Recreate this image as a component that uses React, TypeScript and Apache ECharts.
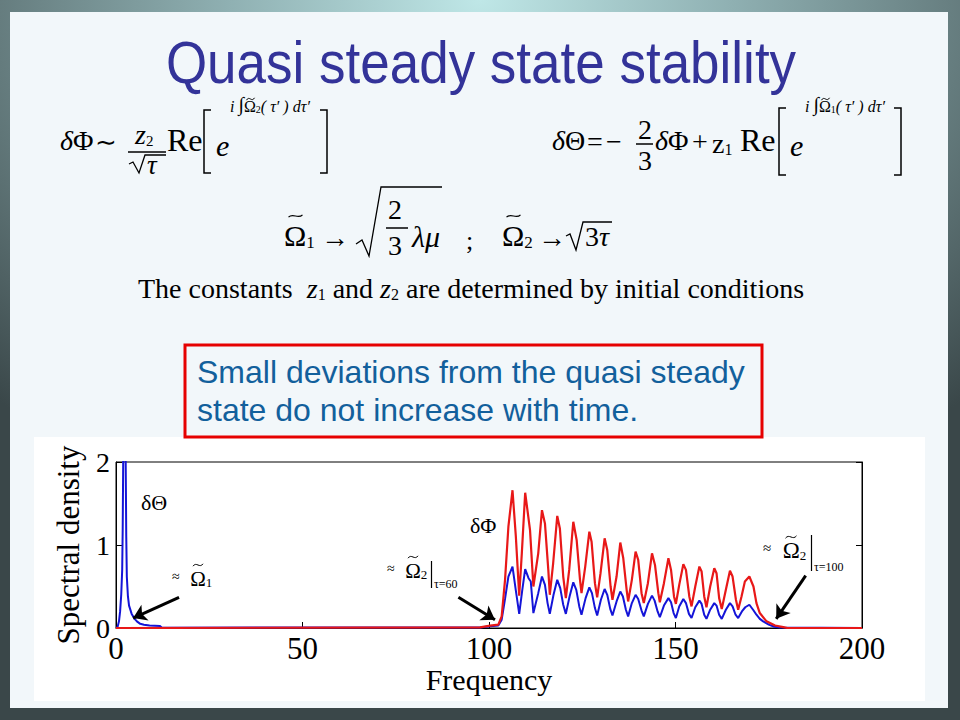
import React, { useEffect, useRef } from "react";
import * as echarts from "echarts";

// ---- data ----
const freqTicks = [0, 50, 100, 150, 200];
const densityTicks = [0, 1, 2];

// δΘ (blue) spectral density: [frequency, density]
const thetaSpectrum: [number, number][] = [
  [0, 0], [0.4, 0.01], [0.8, 0.08], [1.1, 0.2], [1.4, 0.4], [1.66, 0.7], [1.8, 1.2], [1.93, 2.0],
  [2.1, 3.2], [2.3, 3.4], [2.45, 3.0], [2.6, 2.0], [2.75, 1.1], [2.9, 0.62], [3.2, 0.38], [3.5, 0.27],
  [4.2, 0.17], [5.0, 0.11], [5.6, 0.08], [6.5, 0.05], [7.5, 0.04], [9.0, 0.03], [11.8, 0.025], [12.3, 0.004],
  [97.6, 0.006], [100.3, 0.02], [102.5, 0.03], [103.4, 0.1], [104.3, 0.35], [105.2, 0.62],
  [106.3, 0.74], [107.2, 0.45], [108.1, 0.17], [108.9, 0.45], [109.7, 0.71], [110.6, 0.6], [111.2, 0.56], [111.9, 0.18],
  [113.2, 0.42], [114.2, 0.62], [115.0, 0.52], [115.7, 0.3], [116.3, 0.17],
  [117.3, 0.4], [118.3, 0.58], [119.1, 0.48], [119.9, 0.28], [120.6, 0.17],
  [121.6, 0.38], [122.6, 0.55], [123.4, 0.46], [124.2, 0.26], [124.8, 0.16],
  [125.9, 0.36], [126.9, 0.49], [127.6, 0.42], [128.4, 0.24], [129.0, 0.15],
  [130.0, 0.34], [131.0, 0.47], [131.7, 0.4], [132.5, 0.23], [133.1, 0.15],
  [134.2, 0.32], [135.2, 0.44], [135.9, 0.38], [136.7, 0.22], [137.3, 0.14],
  [138.3, 0.3], [139.3, 0.4], [140.0, 0.35], [140.9, 0.21], [141.5, 0.14],
  [142.6, 0.29], [143.7, 0.39], [144.4, 0.33], [145.2, 0.2], [145.8, 0.13],
  [146.9, 0.27], [148.1, 0.36], [148.8, 0.31], [149.5, 0.18], [150.1, 0.12],
  [151.0, 0.26], [152.1, 0.35], [152.8, 0.3], [153.6, 0.17], [154.3, 0.12],
  [155.3, 0.25], [156.4, 0.33], [157.0, 0.29], [157.7, 0.16], [158.3, 0.11],
  [159.3, 0.22], [160.4, 0.3], [161.0, 0.27], [161.7, 0.16], [162.4, 0.11],
  [163.5, 0.22], [164.6, 0.3], [165.3, 0.26], [166.1, 0.16], [166.8, 0.12],
  [167.8, 0.2], [168.7, 0.25], [169.8, 0.28], [170.8, 0.22], [171.7, 0.16], [172.6, 0.11],
  [173.5, 0.08], [175.0, 0.04], [176.5, 0.015], [178.0, 0.005], [200, 0],
];

// δΦ (red) spectral density: [frequency, density]
const phiSpectrum: [number, number][] = [
  [0, 0], [97.6, 0.008], [100.3, 0.028], [102.5, 0.04], [103.4, 0.14], [104.3, 0.58], [105.2, 1.22],
  [106.3, 1.66], [107.2, 1.1], [108.1, 0.39], [108.8, 0.9], [109.7, 1.63], [111.0, 1.18], [111.9, 0.5],
  [113.2, 0.9], [114.2, 1.42], [115.0, 1.26], [115.9, 0.7], [116.3, 0.4],
  [117.2, 0.78], [118.3, 1.35], [119.0, 1.2], [119.9, 0.62], [120.6, 0.36],
  [121.5, 0.7], [122.6, 1.28], [123.5, 1.06], [124.4, 0.58], [124.8, 0.42],
  [125.8, 0.74], [126.9, 1.16], [127.5, 1.04], [128.4, 0.54], [129.0, 0.37],
  [129.9, 0.66], [131.0, 1.08], [131.7, 0.94], [132.6, 0.5], [133.1, 0.34],
  [134.2, 0.62], [135.2, 1.03], [136.0, 0.84], [136.9, 0.46], [137.3, 0.32],
  [138.3, 0.58], [139.3, 0.92], [140.0, 0.82], [140.9, 0.42], [141.5, 0.3],
  [142.6, 0.54], [143.7, 0.9], [144.5, 0.76], [145.4, 0.42], [145.8, 0.31],
  [146.9, 0.54], [148.1, 0.84], [148.8, 0.7], [149.6, 0.38], [150.1, 0.29],
  [151.0, 0.52], [152.1, 0.77], [152.8, 0.7], [153.7, 0.38], [154.3, 0.26],
  [155.3, 0.5], [156.4, 0.74], [157.0, 0.68], [157.7, 0.38], [158.3, 0.25],
  [159.3, 0.5], [160.4, 0.72], [161.0, 0.66], [161.7, 0.36], [162.4, 0.23],
  [163.5, 0.46], [164.6, 0.69], [165.3, 0.62], [166.2, 0.34], [166.8, 0.22],
  [167.7, 0.38], [168.6, 0.56], [169.8, 0.62], [170.9, 0.5], [171.7, 0.3], [172.6, 0.18],
  [174.4, 0.08], [176.7, 0.03], [178.9, 0.01], [180, 0], [200, 0],
];

// arrows: [tail, head] in data coordinates
const arrows: [[number, number], [number, number]][] = [
  [[16.9, 0.37], [4.6, 0.12]],
  [[91.8, 0.37], [101.6, 0.1]],
  [[184.9, 0.63], [177.0, 0.11]],
];

const SERIF = "'Liberation Serif', 'Times New Roman', serif";
const SANS = "'Liberation Sans', Arial, sans-serif";

function txt(x: number, y: number, text: string, size: number, extra: any = {}) {
  const { italic, color, font, align, ...rest } = extra;
  return {
    type: "text",
    x,
    y,
    z: 5,
    ...rest,
    style: {
      text,
      fontSize: size,
      fontFamily: font || SERIF,
      fontStyle: italic ? "italic" : "normal",
      fill: color || "#000",
      align: align || "left",
      textAlign: align || "left",
      verticalAlign: "middle",
      textVerticalAlign: "middle",
    },
  };
}

// rich text: tags m (main), i (italic main), s (subscript), a (small symbol), n (integral)
function rt(x: number, y: number, text: string, size: number, sub = Math.round(size * 0.58), small = Math.round(size * 0.65)) {
  const base = { fontFamily: SERIF, fill: "#000", color: "#000", verticalAlign: "bottom" };
  const lh = size + Math.round(size * 0.22);
  return {
    type: "text",
    x,
    y,
    z: 5,
    style: {
      text,
      fontSize: size,
      fontFamily: SERIF,
      fill: "#000",
      align: "left",
      textAlign: "left",
      verticalAlign: "middle",
      textVerticalAlign: "middle",
      rich: {
        m: { ...base, fontSize: size, lineHeight: lh },
        i: { ...base, fontSize: size, fontStyle: "italic", lineHeight: lh },
        s: { ...base, fontSize: sub, lineHeight: sub },
        a: { ...base, fontSize: small, verticalAlign: "middle" },
        n: { ...base, fontSize: Math.round(size * 1.25), verticalAlign: "middle" },
      },
    },
  };
}

function seg(x1: number, y1: number, x2: number, y2: number, w = 1.5) {
  return { type: "line", z: 5, shape: { x1, y1, x2, y2 }, style: { stroke: "#000", lineWidth: w } };
}

function poly(points: number[][], w = 1.5) {
  return { type: "polyline", z: 5, shape: { points }, style: { stroke: "#000", fill: null, lineWidth: w } };
}

function tilde(cx: number, cy: number, w: number, lw = 1) {
  return {
    type: "bezierCurve",
    z: 5,
    shape: {
      x1: cx - w / 2, y1: cy + 1.2, x2: cx + w / 2, y2: cy - 1.2,
      cpx1: cx - w / 6, cpy1: cy - 3.8, cpx2: cx + w / 6, cpy2: cy + 3.8,
    },
    style: { stroke: "#000", fill: null, lineWidth: lw },
  };
}

function bracket(xOuter: number, xInner: number, y1: number, y2: number) {
  return poly([[xInner, y1], [xOuter, y1], [xOuter, y2], [xInner, y2]], 1.5);
}

function buildGraphics() {
  const g: any[] = [];
  // slide frame
  g.push({
    type: "rect", z: -10, shape: { x: 0, y: 0, width: 960, height: 720 },
    style: {
      fill: {
        type: "radial", x: 0.5, y: 0, r: 0.75,
        colorStops: [
          { offset: 0, color: "#bfe7e7" },
          { offset: 0.35, color: "#8fb0b2" },
          { offset: 1, color: "#3a4749" },
        ],
      },
    },
  });
  g.push({ type: "rect", z: -9, shape: { x: 10, y: 12, width: 938, height: 696 }, style: { fill: "#f2f7fa" } });
  g.push({ type: "rect", z: -8, shape: { x: 34, y: 437, width: 891, height: 264 }, style: { fill: "#ffffff" } });

  // title
  g.push(txt(481, 62, "Quasi steady state stability", 53, { font: SANS, color: "#333399", align: "center", scaleY: 1.12 }));

  // equation 1: δΦ ~ z2/√τ Re[ e^{i∫Ω2(τ')dτ'} ]
  g.push(rt(60, 137, "{i|δ}{m|Φ}", 28));
  g.push(txt(95, 142, "∼", 26));
  g.push(rt(135, 131, "{i|z}{s|2}", 28, 15));
  g.push(seg(128, 152, 166, 152));
  g.push(poly([[129, 164], [133, 162], [139, 173], [145, 155], [166, 155]], 1.3));
  g.push(txt(147, 165, "τ", 27, { italic: true }));
  g.push(txt(167, 140, "Re", 32));
  g.push(bracket(204, 211, 110, 173));
  g.push(txt(216, 145, "e", 30, { italic: true }));
  g.push(rt(230, 104, "{i|i} {n|∫}{m|Ω}{s|2}{i|( τ′ ) dτ′}", 16, 10));
  g.push(tilde(250.5, 99, 8));
  g.push(bracket(327, 320, 110, 173));

  // equation 2: δΘ = -2/3 δΦ + z1 Re[ e^{i∫Ω1(τ')dτ'} ]
  g.push(rt(552, 137, "{i|δ}{m|Θ}", 28));
  g.push(txt(587, 141, "=", 28));
  g.push(txt(606, 141, "−", 28));
  g.push(txt(638, 129, "2", 28));
  g.push(seg(636, 144, 653, 144));
  g.push(txt(638, 160, "3", 28));
  g.push(rt(655, 137, "{i|δ}{m|Φ}", 28));
  g.push(txt(692, 141, "+", 28));
  g.push(rt(712, 140, "{m|z}{s|1}", 28, 16));
  g.push(txt(740, 140, "Re", 32));
  g.push(bracket(779, 786, 108, 175));
  g.push(txt(790, 145, "e", 30, { italic: true }));
  g.push(rt(805, 104, "{i|i} {n|∫}{m|Ω}{s|1}{i|( τ′ ) dτ′}", 16, 10));
  g.push(tilde(825.5, 99, 8));
  g.push(bracket(901, 894, 108, 175));

  // equation 3: Ω1 → √(2/3 λμ) ; Ω2 → √3τ
  g.push(rt(284, 232, "{m|Ω}{s|1}", 30, 17));
  g.push(tilde(295.5, 216, 14, 1.2));
  g.push(txt(321, 237, "→", 28));
  g.push(poly([[356, 244], [362, 240], [369, 256], [381, 187], [442, 187]], 1.3));
  g.push(txt(388, 209, "2", 28));
  g.push(seg(386, 228, 408, 228));
  g.push(txt(388, 245, "3", 28));
  g.push(txt(412, 236, "λμ", 30, { italic: true }));
  g.push(txt(466, 240, ";", 26));
  g.push(rt(502, 232, "{m|Ω}{s|2}", 30, 17));
  g.push(tilde(513.5, 216, 14, 1.2));
  g.push(txt(538, 237, "→", 28));
  g.push(poly([[566, 236], [570, 234], [576, 250], [583, 222], [612, 222]], 1.3));
  g.push(rt(585, 233, "{m|3}{i|τ}", 28));

  // sentence
  g.push(rt(138, 285, "{m|The constants  }{i|z}{s|1}{m| and }{i|z}{s|2}{m| are determined by initial conditions}", 28, 16));

  // red box
  g.push({ type: "rect", z: 4, shape: { x: 185, y: 345, width: 577, height: 92 }, style: { fill: null, stroke: "#e60000", lineWidth: 3 } });
  g.push(txt(197, 372, "Small deviations from the quasi steady", 32, { font: SANS, color: "#12609c" }));
  g.push(txt(197, 410, "state do not increase with time.", 32, { font: SANS, color: "#12609c" }));

  // curve labels
  g.push(txt(141, 502, "δΘ", 22));
  g.push(txt(470, 525, "δΦ", 22));
  // ≈ Ω1
  g.push(rt(172, 576, "{a|≈}{m|  Ω}{s|1}", 21, 13, 14));
  g.push(tilde(198, 565, 10));
  // ≈ Ω2 |τ=60
  g.push(rt(387, 568, "{a|≈}{m|  Ω}{s|2}", 21, 13, 14));
  g.push(tilde(413, 557, 10));
  g.push(seg(431.5, 561, 431.5, 588, 1.2));
  g.push(txt(434, 584, "τ=60", 12));
  // ≈ Ω2 |τ=100
  g.push(rt(763, 548, "{a|≈}{m|  Ω}{s|2}", 23, 13, 15));
  g.push(tilde(791, 537, 11));
  g.push(seg(811.5, 535, 811.5, 571, 1.2));
  g.push(txt(814, 567, "τ=100", 12));
  return g;
}

export default function App() {
  const ref = useRef<HTMLDivElement>(null);
  useEffect(() => {
    if (!ref.current) return;
    const chart = echarts.init(ref.current, null, { renderer: "svg" });
    const axisCommon = {
      axisLine: { show: true, lineStyle: { color: "#000", width: 1 } },
      axisTick: { show: true, inside: true, length: 6, lineStyle: { color: "#000", width: 1 } },
      splitLine: { show: false },
    };
    chart.setOption({
      animation: false,
      backgroundColor: "transparent",
      graphic: { elements: buildGraphics() },
      grid: { left: 116, top: 462, width: 746, height: 166, show: true, borderColor: "#000", borderWidth: 1, backgroundColor: "transparent" },
      xAxis: {
        type: "value",
        min: freqTicks[0],
        max: freqTicks[freqTicks.length - 1],
        interval: freqTicks[1] - freqTicks[0],
        ...axisCommon,
        axisLabel: { color: "#000", fontFamily: SERIF, fontSize: 31, margin: 5 },
        name: "Frequency",
        nameLocation: "middle",
        nameGap: 36,
        nameTextStyle: { color: "#000", fontFamily: SERIF, fontSize: 30 },
      },
      yAxis: [
        {
          type: "value",
          min: densityTicks[0],
          max: densityTicks[densityTicks.length - 1],
          interval: densityTicks[1] - densityTicks[0],
          ...axisCommon,
          axisLabel: { color: "#000", fontFamily: SERIF, fontSize: 28, margin: 6 },
          name: "Spectral density",
          nameLocation: "middle",
          nameRotate: 90,
          nameGap: 32,
          nameTextStyle: { color: "#000", fontFamily: SERIF, fontSize: 31 },
        },
        {
          type: "value",
          position: "right",
          min: densityTicks[0],
          max: densityTicks[densityTicks.length - 1],
          interval: densityTicks[1] - densityTicks[0],
          ...axisCommon,
          axisLabel: { show: false },
        },
      ],
      series: [
        {
          name: "δΘ",
          type: "line",
          data: thetaSpectrum,
          showSymbol: false,
          symbol: "none",
          lineStyle: { color: "#1414d8", width: 2 },
          z: 2,
        },
        {
          name: "δΦ",
          type: "line",
          data: phiSpectrum,
          showSymbol: false,
          symbol: "none",
          lineStyle: { color: "#e81818", width: 2.2 },
          z: 3,
          markLine: {
            silent: true,
            symbol: ["none", "arrow"],
            symbolSize: 13,
            label: { show: false },
            lineStyle: { color: "#000", width: 3, type: "solid" },
            emphasis: { disabled: true },
            data: arrows.map(([a, b]) => [{ coord: a }, { coord: b }]),
          },
        },
      ],
    });
    return () => chart.dispose();
  }, []);
  return <div ref={ref} style={{ position: "absolute", left: 0, top: 0, width: 960, height: 720 }} />;
}
